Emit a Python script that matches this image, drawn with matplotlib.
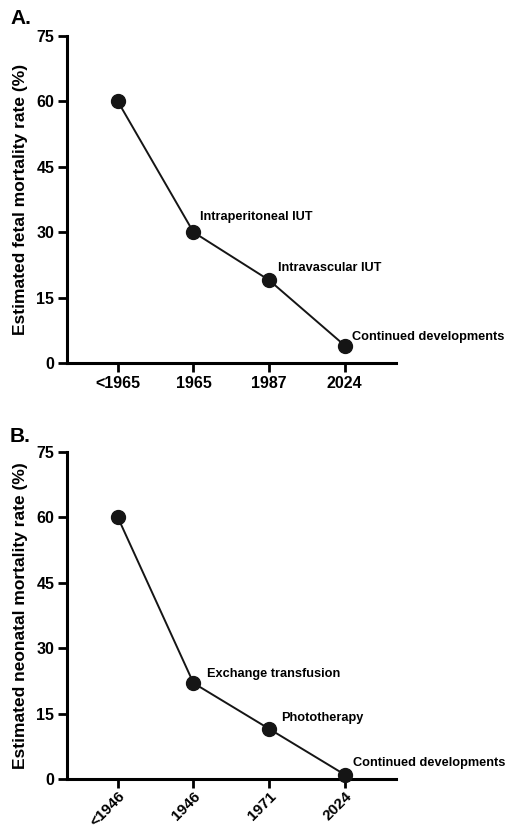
import matplotlib.pyplot as plt

plt.rcParams['font.family'] = ['Liberation Sans', 'DejaVu Sans']
plt.rcParams['font.weight'] = 'bold'

fetal_labels = ['<1965', '1965', '1987', '2024']
fetal_rate = [60, 30, 19, 4]
fetal_notes = ['', 'Intraperitoneal IUT', 'Intravascular IUT', 'Continued developments']

neo_labels = ['<1946', '1946', '1971', '2024']
neo_rate = [60, 22, 11.5, 1]
neo_notes = ['', 'Exchange transfusion', 'Phototherapy', 'Continued developments']

y_ticks = [0, 15, 30, 45, 60, 75]

fig = plt.figure(figsize=(5.06, 8.32), dpi=100)
ax1 = fig.add_axes([0.132, 0.5637, 0.651, 0.393])
ax2 = fig.add_axes([0.132, 0.0637, 0.651, 0.393])


def draw(ax, labels, rates, notes, ylabel, offsets, rotate):
    x = list(range(len(labels)))
    ax.plot(x, rates, color='#151515', lw=1.4, marker='o', markersize=10,
            markerfacecolor='#151515', markeredgecolor='#151515', clip_on=False, zorder=3)
    for xi, yi, note, off in zip(x, rates, notes, offsets):
        if note:
            ax.annotate(note, (xi, yi), xytext=off, textcoords='offset pixels',
                        ha='left', va='center', fontsize=9.2, fontweight='bold',
                        annotation_clip=False)
    ax.set_xlim(-0.675, 3.68)
    ax.set_ylim(0, 75)
    ax.set_yticks(y_ticks)
    ax.set_xticks(x)
    ax.set_ylabel(ylabel, fontsize=12.5, fontweight='bold', labelpad=6)
    ax.spines['top'].set_visible(False)
    ax.spines['right'].set_visible(False)
    for s in ['left', 'bottom']:
        ax.spines[s].set_linewidth(2.2)
    ax.tick_params(width=2, length=6.5, labelsize=11.5, pad=2.5)
    if rotate:
        ax.set_xticklabels(labels, rotation=45, ha='right', rotation_mode='anchor')
        ax.tick_params(axis='x', pad=1, labelsize=11)
    else:
        ax.set_xticklabels(labels)
    for lab in ax.get_xticklabels() + ax.get_yticklabels():
        lab.set_fontweight('bold')


draw(ax1, fetal_labels, fetal_rate, fetal_notes, 'Estimated fetal mortality rate (%)',
     [(0, 0), (7, 15), (9, 12), (7, 9)], False)
draw(ax2, neo_labels, neo_rate, neo_notes, 'Estimated neonatal mortality rate (%)',
     [(0, 0), (14, 9), (12, 11), (8, 12)], True)

fig.text(10 / 506, 1 - 18 / 832, 'A.', fontsize=15, fontweight='bold', va='center')
fig.text(10 / 506, 1 - 436 / 832, 'B.', fontsize=15, fontweight='bold', va='center')

fig.savefig('out.png', dpi=100)
